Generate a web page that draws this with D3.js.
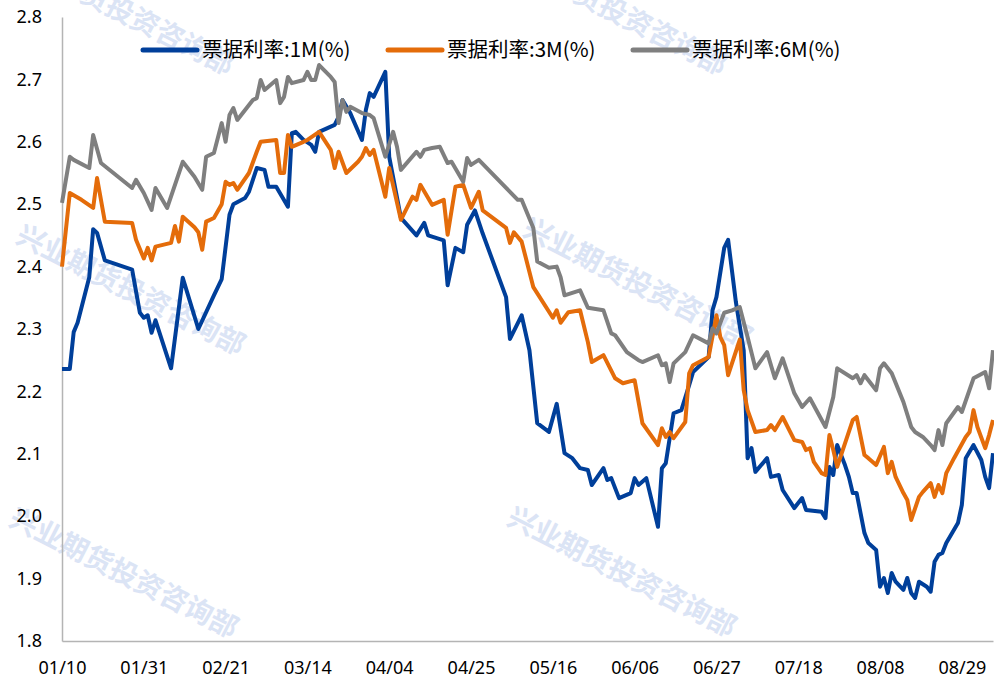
<!DOCTYPE html>
<html>
<head>
<meta charset="utf-8">
<script src="https://cdn.jsdelivr.net/npm/d3@7"></script>
<style>
  body { margin: 0; background: #fff; }
  svg { display: block; }
  .tick text { font-family: "Noto Sans", "Open Sans", sans-serif; font-size: 18px; fill: #000; }
</style>
</head>
<body>
<div id="container"></div>
<script>
"use strict";

const width = 994;
const height = 680;

// date axis: ticks every 21 days
const tickLabels = ["01/10","01/31","02/21","03/14","04/04","04/25","05/16","06/06","06/27","07/18","08/08","08/29"];
const yTicks = [1.8, 1.9, 2.0, 2.1, 2.2, 2.3, 2.4, 2.5, 2.6, 2.7, 2.8];
const seriesNames = ["票据利率:1M(%)", "票据利率:3M(%)", "票据利率:6M(%)"];
const seriesColors = ["#003f9a", "#e46c0a", "#7f7f7f"];

// 票据利率:1M(%)
const rate1M = [
  ["01/10",2.236],["01/12",2.236],["01/13",2.295],["01/14",2.31],["01/17",2.383],["01/18",2.46],["01/19",2.454],
  ["01/21",2.41],["01/28",2.395],["01/30",2.326],["01/31",2.318],["02/01",2.322],["02/02",2.294],["02/03",2.314],
  ["02/07",2.237],["02/10",2.382],["02/14",2.30],["02/18",2.354],["02/20",2.38],["02/22",2.483],["02/23",2.50],
  ["02/26",2.51],["02/27",2.52],["03/01",2.558],["03/03",2.555],["03/04",2.528],["03/06",2.528],["03/09",2.496],
  ["03/10",2.614],["03/11",2.616],["03/13",2.603],["03/15",2.595],["03/16",2.584],["03/17",2.616],["03/21",2.627],
  ["03/22",2.64],["03/23",2.667],["03/25",2.646],["03/28",2.603],["03/29",2.651],["03/30",2.678],["03/31",2.672],
  ["04/03",2.712],["04/04",2.576],["04/07",2.478],["04/11",2.45],["04/13",2.47],["04/14",2.45],["04/18",2.442],
  ["04/19",2.37],["04/21",2.43],["04/23",2.423],["04/24",2.467],["04/26",2.49],["04/28",2.453],["05/04",2.351],
  ["05/05",2.284],["05/08",2.322],["05/10",2.266],["05/12",2.149],["05/15",2.135],["05/17",2.18],["05/19",2.101],
  ["05/21",2.093],["05/23",2.077],["05/25",2.074],["05/26",2.05],["05/29",2.077],["05/30",2.058],["05/31",2.061],
  ["06/02",2.029],["06/05",2.037],["06/06",2.061],["06/07",2.05],["06/09",2.061],["06/12",1.983],["06/13",2.077],
  ["06/14",2.085],["06/16",2.165],["06/18",2.17],["06/20",2.21],["06/21",2.231],["06/25",2.255],["06/26",2.33],
  ["06/27",2.351],["06/29",2.43],["06/30",2.443],["07/02",2.343],["07/04",2.266],["07/05",2.093],["07/06",2.109],
  ["07/07",2.071],["07/10",2.093],["07/11",2.063],["07/13",2.066],["07/14",2.042],["07/17",2.013],["07/19",2.029],
  ["07/20",2.01],["07/24",2.007],["07/25",1.997],["07/26",2.079],["07/27",2.066],["07/28",2.114],["07/30",2.082],
  ["07/31",2.063],["08/01",2.037],["08/02",2.037],["08/03",2.005],["08/04",1.973],["08/05",1.957],["08/07",1.946],
  ["08/08",1.887],["08/09",1.901],["08/10",1.877],["08/11",1.909],["08/12",1.895],["08/14",1.882],["08/15",1.901],
  ["08/16",1.877],["08/17",1.869],["08/18",1.895],["08/20",1.887],["08/21",1.879],["08/22",1.927],["08/23",1.938],
  ["08/24",1.941],["08/25",1.957],["08/28",1.989],["08/29",2.018],["08/30",2.093],["09/01",2.114],["09/03",2.09],
  ["09/04",2.063],["09/05",2.045],["09/06",2.101]
];

// 票据利率:3M(%)
const rate3M = [
  ["01/10",2.40],["01/12",2.518],["01/15",2.507],["01/18",2.494],["01/19",2.542],["01/21",2.472],["01/28",2.47],
  ["01/29",2.443],["01/31",2.413],["02/01",2.43],["02/02",2.41],["02/03",2.432],["02/07",2.438],["02/08",2.465],
  ["02/09",2.44],["02/10",2.48],["02/13",2.463],["02/14",2.455],["02/15",2.427],["02/16",2.472],["02/18",2.478],
  ["02/20",2.50],["02/21",2.536],["02/22",2.531],["02/23",2.534],["02/24",2.523],["02/27",2.55],["03/01",2.584],
  ["03/02",2.60],["03/06",2.603],["03/07",2.55],["03/08",2.55],["03/09",2.611],["03/10",2.592],["03/13",2.60],
  ["03/14",2.603],["03/17",2.616],["03/20",2.587],["03/21",2.558],["03/22",2.584],["03/24",2.55],["03/27",2.568],
  ["03/28",2.576],["03/29",2.59],["03/30",2.579],["03/31",2.587],["04/03",2.512],["04/04",2.558],["04/07",2.475],
  ["04/10",2.512],["04/11",2.507],["04/12",2.531],["04/15",2.499],["04/18",2.507],["04/19",2.451],["04/21",2.528],
  ["04/23",2.531],["04/25",2.494],["04/27",2.52],["04/28",2.49],["05/04",2.462],["05/05",2.438],["05/06",2.455],
  ["05/08",2.44],["05/11",2.367],["05/16",2.318],["05/17",2.33],["05/18",2.31],["05/20",2.327],["05/23",2.33],
  ["05/25",2.279],["05/26",2.247],["05/29",2.258],["06/01",2.221],["06/03",2.213],["06/06",2.218],["06/08",2.149],
  ["06/12",2.114],["06/13",2.141],["06/14",2.127],["06/15",2.135],["06/16",2.125],["06/19",2.151],["06/20",2.229],
  ["06/21",2.242],["06/25",2.255],["06/27",2.322],["06/28",2.287],["06/29",2.274],["06/30",2.226],["07/03",2.283],
  ["07/04",2.202],["07/05",2.17],["07/07",2.135],["07/10",2.138],["07/11",2.146],["07/12",2.138],["07/14",2.159],
  ["07/17",2.122],["07/19",2.119],["07/20",2.106],["07/21",2.109],["07/22",2.087],["07/24",2.069],["07/25",2.066],
  ["07/26",2.13],["07/27",2.106],["07/28",2.079],["07/29",2.098],["08/01",2.154],["08/02",2.159],["08/04",2.098],
  ["08/05",2.093],["08/07",2.082],["08/09",2.111],["08/10",2.069],["08/11",2.087],["08/12",2.063],["08/14",2.037],
  ["08/15",2.026],["08/16",1.994],["08/18",2.031],["08/19",2.039],["08/21",2.053],["08/22",2.031],["08/23",2.05],
  ["08/24",2.037],["08/25",2.069],["08/27",2.093],["08/30",2.127],["08/31",2.135],["09/01",2.17],["09/02",2.143],
  ["09/04",2.109],["09/05",2.13],["09/06",2.154]
];

// 票据利率:6M(%)
const rate6M = [
  ["01/10",2.502],["01/12",2.576],["01/13",2.571],["01/17",2.558],["01/18",2.611],["01/20",2.566],["01/28",2.526],
  ["01/29",2.539],["01/31",2.518],["02/02",2.491],["02/03",2.526],["02/06",2.494],["02/10",2.568],["02/13",2.544],
  ["02/15",2.523],["02/16",2.576],["02/18",2.582],["02/20",2.63],["02/21",2.60],["02/22",2.643],["02/23",2.654],
  ["02/24",2.635],["02/28",2.667],["03/01",2.67],["03/02",2.699],["03/03",2.683],["03/06",2.699],["03/07",2.662],
  ["03/08",2.672],["03/09",2.704],["03/10",2.694],["03/13",2.699],["03/14",2.712],["03/15",2.699],["03/16",2.699],
  ["03/17",2.723],["03/20",2.704],["03/21",2.696],["03/22",2.63],["03/23",2.667],["03/24",2.648],["03/25",2.656],
  ["03/28",2.646],["03/30",2.643],["03/31",2.638],["04/03",2.576],["04/05",2.616],["04/06",2.592],["04/07",2.555],
  ["04/11",2.584],["04/12",2.576],["04/13",2.587],["04/15",2.59],["04/17",2.592],["04/19",2.566],["04/20",2.568],
  ["04/23",2.536],["04/24",2.574],["04/25",2.563],["04/27",2.571],["05/07",2.507],["05/08",2.507],["05/11",2.462],
  ["05/12",2.408],["05/15",2.398],["05/17",2.40],["05/18",2.383],["05/19",2.354],["05/23",2.362],["05/25",2.334],
  ["05/29",2.33],["05/31",2.293],["06/01",2.29],["06/04",2.263],["06/07",2.25],["06/08",2.247],["06/12",2.258],
  ["06/13",2.242],["06/14",2.245],["06/15",2.215],["06/16",2.245],["06/19",2.263],["06/21",2.29],["06/25",2.277],
  ["06/26",2.301],["06/27",2.293],["06/29",2.326],["07/01",2.33],["07/03",2.335],["07/05",2.287],["07/07",2.237],
  ["07/10",2.263],["07/12",2.221],["07/14",2.253],["07/17",2.197],["07/19",2.175],["07/21",2.189],["07/25",2.143],
  ["07/27",2.191],["07/28",2.237],["08/01",2.221],["08/02",2.226],["08/03",2.213],["08/04",2.226],["08/07",2.202],
  ["08/08",2.237],["08/09",2.245],["08/11",2.229],["08/14",2.183],["08/16",2.143],["08/17",2.135],["08/19",2.127],
  ["08/21",2.114],["08/22",2.106],["08/23",2.138],["08/24",2.114],["08/25",2.149],["08/28",2.175],["08/29",2.167],
  ["09/01",2.221],["09/04",2.231],["09/05",2.205],["09/06",2.266]
];

const watermarkText = "兴业期货投资咨询部";
const watermarkSpots = [[120, 10], [131, 290], [124, 573], [613, 10], [638, 283], [622, 572]];

const parseDate = d3.timeParse("%Y/%m/%d");
const toDate = s => parseDate("2022/" + s);

const margin = { left: 62, right: 1, top: 17, bottom: 39 };

const x = d3.scaleTime()
    .domain([toDate("01/10"), toDate("09/06")])
    .range([margin.left, width - margin.right]);

const y = d3.scaleLinear()
    .domain([1.8, 2.8])
    .range([height - margin.bottom, margin.top]);

const svg = d3.select("#container").append("svg")
    .attr("width", width)
    .attr("height", height);

// watermarks (drawn behind everything, the top ones run off the edge as in the source)
svg.append("g").selectAll("text")
    .data(watermarkSpots)
    .enter()
    .append("text")
    .attr("transform", d => "translate(" + d[0] + "," + d[1] + ") rotate(27)")
    .attr("text-anchor", "middle")
    .attr("dy", "0.35em")
    .style("font-family", "'Noto Sans CJK SC', sans-serif")
    .style("font-weight", "bold")
    .style("font-size", "28px")
    .style("fill", "#dbe4f5")
    .text(watermarkText);

// axes
const yAxis = svg.append("g")
    .attr("transform", "translate(" + margin.left + ",0)")
    .call(d3.axisLeft(y).tickValues(yTicks).tickFormat(d3.format(".1f")).tickSize(0).tickPadding(20));

const xAxis = svg.append("g")
    .attr("transform", "translate(0," + (height - margin.bottom) + ")")
    .call(d3.axisBottom(x).tickValues(tickLabels.map(toDate)).tickFormat(d3.timeFormat("%m/%d")).tickSize(0).tickPadding(20));

[yAxis, xAxis].forEach(a => {
    a.select(".domain").attr("stroke", "#b4b4b4").attr("stroke-width", 1.5);
});

// lines
const line = d3.line()
    .x(d => x(toDate(d[0])))
    .y(d => y(d[1]));

const allSeries = [rate1M, rate3M, rate6M];

svg.append("g").selectAll("path")
    .data(allSeries)
    .enter()
    .append("path")
    .attr("d", line)
    .attr("fill", "none")
    .attr("stroke", (d, i) => seriesColors[i])
    .attr("stroke-width", 4)
    .attr("stroke-linejoin", "round");

// legend
const legendX = [143, 388, 633];
const legend = svg.append("g").selectAll("g")
    .data(seriesNames)
    .enter()
    .append("g")
    .attr("transform", (d, i) => "translate(" + legendX[i] + ",50)");

legend.append("line")
    .attr("x1", 0).attr("x2", 54)
    .attr("stroke", (d, i) => seriesColors[i])
    .attr("stroke-width", 5)
    .attr("stroke-linecap", "round");

legend.append("text")
    .attr("x", 59)
    .attr("dy", "0.36em")
    .style("font-family", "'Noto Sans CJK SC', sans-serif")
    .style("font-size", "20.5px")
    .style("fill", "#000")
    .text(d => d);
</script>
</body>
</html>
